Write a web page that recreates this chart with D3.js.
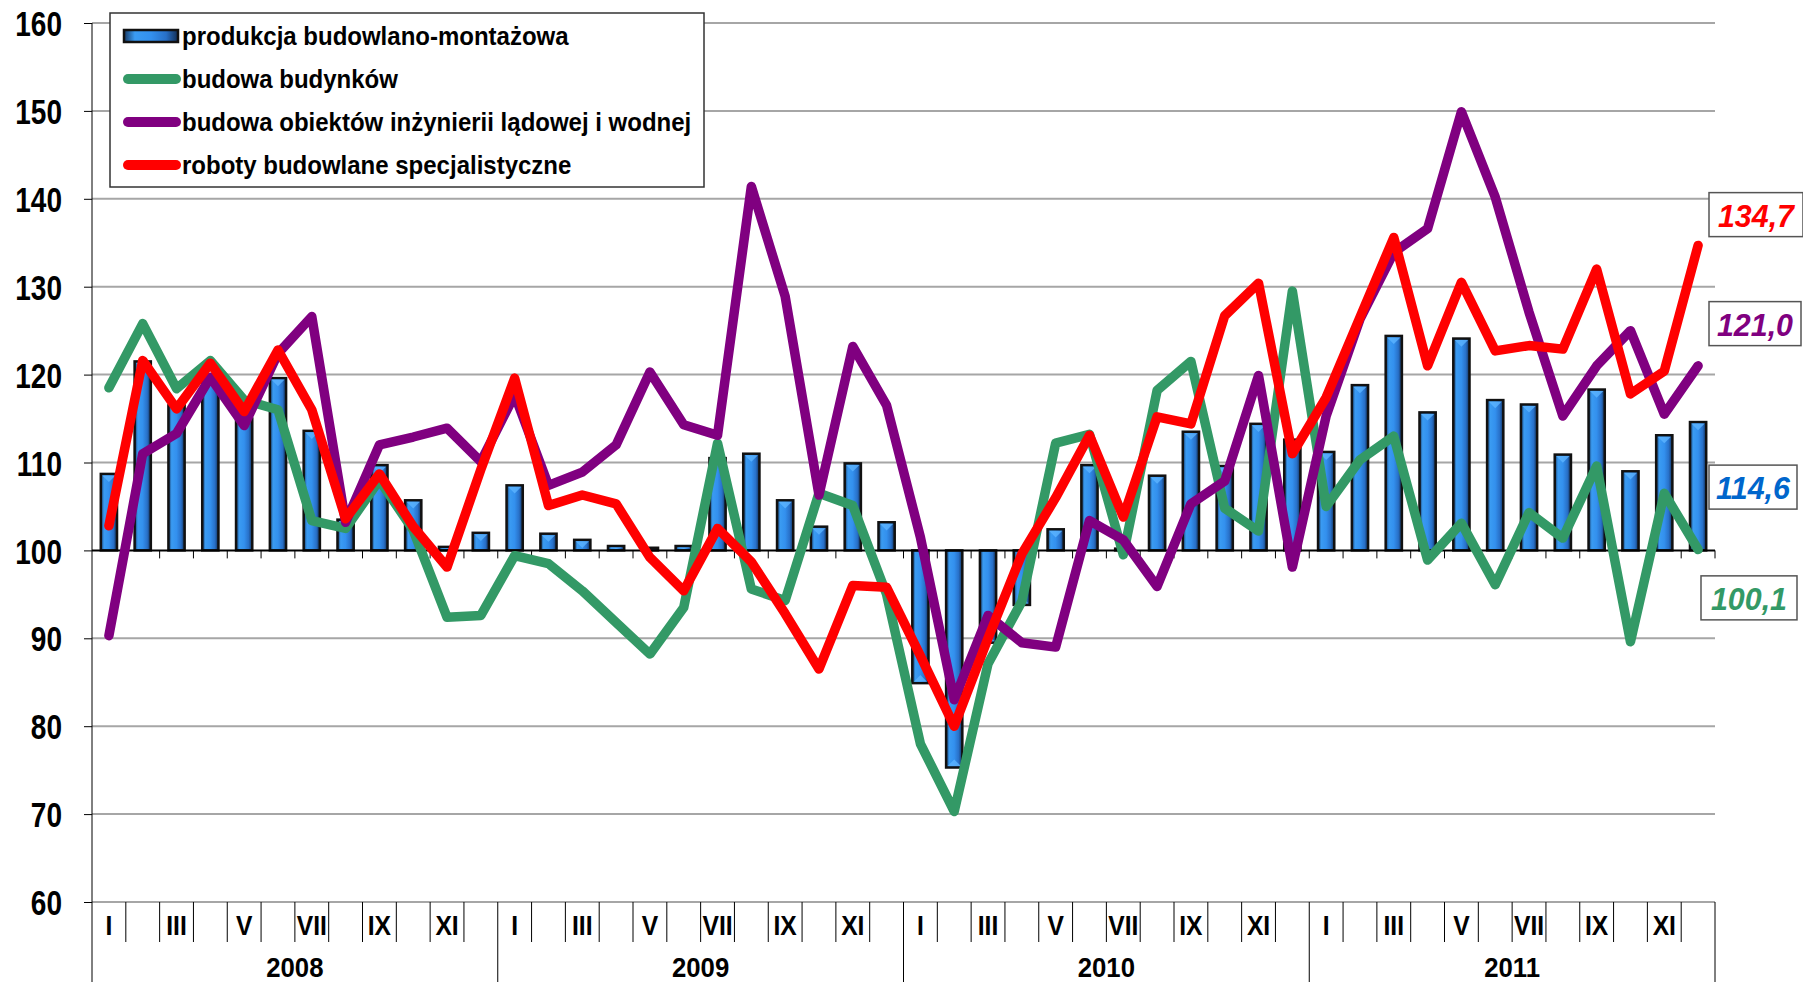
<!DOCTYPE html>
<html lang="pl">
<head>
<meta charset="UTF-8">
<script src="https://d3js.org/d3.v7.min.js"></script>
<style>
  body { margin: 0; background: #fff; }
  svg text { font-family: "Liberation Sans", Arial, sans-serif; font-weight: bold; }
</style>
</head>
<body>
<script>
const w = 1803, h = 982;

// data (indeksy, analogiczny okres roku poprzedniego = 100)
const years = ["2008", "2009", "2010", "2011"];
const monthNames = ["I", "", "III", "", "V", "", "VII", "", "IX", "", "XI", ""];
const yTicks = [60, 70, 80, 90, 100, 110, 120, 130, 140, 150, 160];

const produkcja = [
  108.7, 121.5, 116.5, 119.5, 115.0, 119.6, 113.6, 103.5, 109.7, 105.7, 100.4, 102.0,
  107.4, 101.9, 101.2, 100.5, 100.3, 100.5, 110.5, 111.0, 105.7, 102.7, 109.9, 103.2,
  84.9, 75.3, 89.5, 93.8, 102.4, 109.7, 100.2, 108.5, 113.5, 109.6, 114.4, 112.6,
  111.2, 118.8, 124.4, 115.7, 124.1, 117.1, 116.6, 110.9, 118.3, 109.0, 113.1, 114.6
];
const budynki = [
  118.5, 125.8, 118.4, 121.6, 117.1, 116.0, 103.4, 102.5, 108.0, 102.3, 92.4, 92.6,
  99.4, 98.5, 95.4, 91.8, 88.2, 93.5, 112.2, 95.6, 94.3, 106.5, 105.1, 95.0,
  78.0, 70.3, 87.1, 94.2, 112.2, 113.2, 99.5, 118.2, 121.5, 104.8, 102.2, 129.5,
  105.0, 110.3, 113.0, 98.9, 103.1, 96.1, 104.3, 101.4, 109.6, 89.6, 106.5, 100.1
];
const inzynieria = [
  90.3, 111.0, 113.3, 119.7, 114.2, 122.4, 126.6, 103.2, 112.0, 112.9, 113.9, 110.1,
  117.7, 107.4, 108.9, 112.0, 120.3, 114.3, 113.1, 141.4, 128.9, 106.3, 123.2, 116.5,
  101.5, 83.0, 92.6, 89.5, 89.0, 103.4, 101.2, 95.9, 105.3, 107.9, 119.9, 98.1,
  115.3, 126.3, 133.9, 136.6, 149.9, 140.2, 127.1, 115.3, 121.0, 125.0, 115.5, 121.0
];
const specjalistyczne = [
  102.8, 121.6, 116.1, 121.3, 115.8, 122.8, 116.0, 103.6, 108.7, 102.7, 98.1, 109.2,
  119.6, 105.1, 106.3, 105.3, 99.2, 95.4, 102.5, 98.7, 92.8, 86.5, 96.0, 95.8,
  88.0, 80.0, 90.0, 99.6, 106.0, 113.1, 103.8, 115.2, 114.4, 126.7, 130.4, 111.0,
  117.4, 126.5, 135.6, 121.0, 130.5, 122.7, 123.3, 122.9, 132.0, 117.8, 120.4, 134.7
];

const seriesNames = ["produkcja budowlano-montażowa", "budowa budynków",
  "budowa obiektów inżynierii lądowej i wodnej", "roboty budowlane specjalistyczne"];
const seriesColors = ["#2f8ef0", "#339966", "#800080", "#ff0000"];
const labelColors = ["#0066cc", "#339966", "#800080", "#ff0000"];

const months = d3.range(years.length * 12);

const plotLeft = 92, plotRight = 1715, plotTop = 23, plotBottom = 902;

const svg = d3.select("body").append("svg")
  .attr("width", w)
  .attr("height", h);

const x = d3.scaleBand()
  .domain(months)
  .range([plotLeft, plotRight])
  .paddingInner(0.52)
  .paddingOuter(0.26);

const y = d3.scaleLinear()
  .domain([60, 160])
  .range([plotBottom, plotTop]);

const step = x.step();
const cx = function (i) { return x(i) + x.bandwidth() / 2; };

// squeeze text horizontally around its own x (narrow Arial look)
function condense(sel, sx) {
  sel.attr("transform", function () {
    const x0 = +this.getAttribute("x") || 0;
    return "translate(" + (x0 * (1 - sx)) + ",0) scale(" + sx + ",1)";
  });
}

// gradient for bars
const defs = svg.append("defs");
const grad = defs.append("linearGradient").attr("id", "barGrad")
  .attr("x1", "0%").attr("x2", "100%").attr("y1", "0%").attr("y2", "0%");
[["0%", "#173863"], ["20%", "#3a9bf2"], ["50%", "#3390ee"], ["78%", "#2870c8"], ["100%", "#122e55"]]
  .forEach(function (s) { grad.append("stop").attr("offset", s[0]).attr("stop-color", s[1]); });

// gridlines
svg.append("g").selectAll("line")
  .data(yTicks.filter(function (d) { return d !== 100; }))
  .enter().append("line")
  .attr("x1", plotLeft).attr("x2", plotRight)
  .attr("y1", function (d) { return y(d); })
  .attr("y2", function (d) { return y(d); })
  .attr("stroke", "#a6a6a6")
  .attr("stroke-width", 2);

// y axis
const yAxis = d3.axisLeft(y)
  .tickValues(yTicks)
  .tickSize(8)
  .tickPadding(22);
const gy = svg.append("g")
  .attr("transform", "translate(" + plotLeft + ",0)")
  .call(yAxis);
gy.select(".domain").remove();
gy.selectAll(".tick line").attr("stroke", "#000");
gy.selectAll(".tick text")
  .attr("fill", "#000")
  .style("font-size", "35px")
  .attr("dy", "0.36em")
  .call(condense, 0.8);
svg.append("line")
  .attr("x1", plotLeft).attr("x2", plotLeft)
  .attr("y1", plotTop).attr("y2", h)
  .attr("stroke", "#000").attr("stroke-width", 1);

// bars
svg.append("g").selectAll("rect")
  .data(produkcja)
  .enter().append("rect")
  .attr("x", function (d, i) { return x(i); })
  .attr("y", function (d) { return Math.min(y(d), y(100)); })
  .attr("width", x.bandwidth())
  .attr("height", function (d) { return Math.abs(y(d) - y(100)); })
  .attr("fill", "url(#barGrad)")
  .attr("stroke", "#111")
  .attr("stroke-width", 2.5);

// bar tops: small lighter bevel
svg.append("g").selectAll("path")
  .data(produkcja)
  .enter().append("path")
  .attr("d", function (d, i) {
    const bx = x(i) + 1.5, bw = x.bandwidth() - 3;
    const up = d >= 100;
    const yy = up ? y(d) + 1.5 : y(d) - 1.5;
    const s = up ? 1 : -1;
    const depth = Math.max(0, Math.min(bw / 2, Math.abs(y(d) - y(100)) - 3));
    return "M" + bx + "," + yy + "L" + (bx + bw) + "," + yy +
      "L" + (bx + bw / 2) + "," + (yy + s * depth) + "Z";
  })
  .attr("fill", "#5db4ff")
  .attr("opacity", 0.8);

// x axis at 100
const gx = svg.append("g")
  .attr("transform", "translate(0," + y(100) + ")");
gx.append("line")
  .attr("x1", plotLeft).attr("x2", plotRight)
  .attr("stroke", "#000").attr("stroke-width", 2);
gx.selectAll(".tk")
  .data(d3.range(1, months.length + 1))
  .enter().append("line")
  .attr("class", "tk")
  .attr("x1", function (d) { return plotLeft + d * step; })
  .attr("x2", function (d) { return plotLeft + d * step; })
  .attr("y1", 0).attr("y2", 8)
  .attr("stroke", "#000").attr("stroke-width", 1);

// lines
const line = d3.line()
  .x(function (d, i) { return cx(i); })
  .y(function (d) { return y(d); });

[budynki, inzynieria, specjalistyczne].forEach(function (s, k) {
  svg.append("path")
    .datum(s)
    .attr("d", line)
    .attr("fill", "none")
    .attr("stroke", seriesColors[k + 1])
    .attr("stroke-width", 9.5)
    .attr("stroke-linejoin", "round")
    .attr("stroke-linecap", "round");
});

// category axis (months + years)
const cat = svg.append("g");
cat.selectAll(".msep")
  .data(d3.range(1, months.length + 1))
  .enter().append("line")
  .attr("x1", function (d) { return plotLeft + d * step; })
  .attr("x2", function (d) { return plotLeft + d * step; })
  .attr("y1", plotBottom)
  .attr("y2", function (d) { return d % 12 === 0 ? h : plotBottom + 40; })
  .attr("stroke", "#000").attr("stroke-width", 1);

cat.selectAll(".mlab")
  .data(months)
  .enter().append("text")
  .attr("x", function (i) { return cx(i); })
  .attr("y", plotBottom + 33)
  .attr("text-anchor", "middle")
  .style("font-size", "28px")
  .text(function (i) { return monthNames[i % 12]; })
  .call(condense, 0.88);

cat.selectAll(".ylab")
  .data(years)
  .enter().append("text")
  .attr("x", function (d, k) { return plotLeft + (k * 12 + 6) * step; })
  .attr("y", plotBottom + 75)
  .attr("text-anchor", "middle")
  .style("font-size", "28px")
  .text(function (d) { return d; })
  .call(condense, 0.92);

// legend
const lg = svg.append("g");
lg.append("rect")
  .attr("x", 110).attr("y", 13)
  .attr("width", 594).attr("height", 174)
  .attr("fill", "#fff").attr("stroke", "#333").attr("stroke-width", 1.5);
const rowY = [36, 79, 122, 165];
lg.append("rect")
  .attr("x", 124).attr("y", rowY[0] - 6)
  .attr("width", 54).attr("height", 12)
  .attr("fill", "url(#barGrad)").attr("stroke", "#111").attr("stroke-width", 2.5);
[1, 2, 3].forEach(function (k) {
  lg.append("line")
    .attr("x1", 128).attr("x2", 176)
    .attr("y1", rowY[k]).attr("y2", rowY[k])
    .attr("stroke", seriesColors[k])
    .attr("stroke-width", 10)
    .attr("stroke-linecap", "round");
});
lg.selectAll(".lt")
  .data(seriesNames)
  .enter().append("text")
  .attr("x", 182)
  .attr("y", function (d, k) { return rowY[k] + 9; })
  .style("font-size", "25px")
  .attr("fill", "#000")
  .text(function (d) { return d; })
  .call(condense, 0.96);

// end value labels
const lastVals = [produkcja, budynki, inzynieria, specjalistyczne].map(function (s) { return s[s.length - 1]; });
const labelAt = [107.2, 94.6, 125.8, 138.2];   // placement in axis units
const labelX = [1709, 1701, 1709, 1709];
const labelW = [88, 96, 92, 94];
const fmt = function (v) { return d3.format(".1f")(v).replace(".", ","); };
lastVals.forEach(function (v, k) {
  const g = svg.append("g").attr("transform", "translate(" + labelX[k] + "," + y(labelAt[k]) + ")");
  g.append("rect")
    .attr("x", 0).attr("y", -22)
    .attr("width", labelW[k]).attr("height", 44)
    .attr("fill", "#fff").attr("stroke", "#555").attr("stroke-width", 1.5);
  g.append("text")
    .attr("x", labelW[k] / 2).attr("y", 12)
    .attr("text-anchor", "middle")
    .style("font-size", "32px")
    .style("font-style", "italic")
    .attr("fill", labelColors[k])
    .text(fmt(v))
    .call(condense, 0.95);
});
</script>
</body>
</html>
